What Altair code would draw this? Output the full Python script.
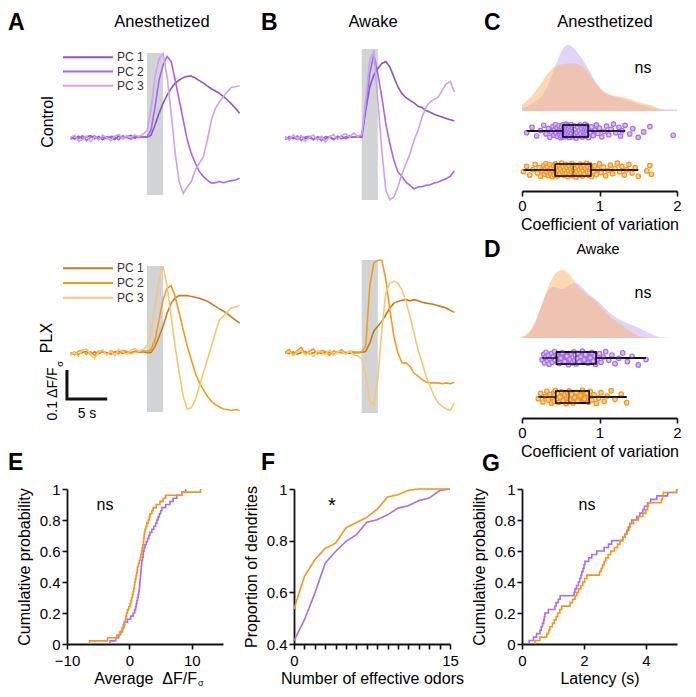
import altair as alt
import numpy as np
import pandas as pd

FONT = "Liberation Sans"

# ---------------- data ----------------
# time (s) relative to odor onset
T = [-9.5, -9.0, -8.5, -8.0, -7.5, -7.0, -6.5, -6.0, -5.5, -5.0, -4.5, -4.0, -3.5, -3.0, -2.5, -2.0, -1.5, -1.0, -0.5, 0.0,
     0.5, 1.0, 1.5, 2.0, 2.5, 3.0, 3.5, 4.0, 4.5, 5.0, 5.5, 6.0, 6.5, 7.0, 7.5, 8.0, 8.5, 9.0, 9.5, 10.0, 10.5, 11.0, 11.5]
STIM = [0.0, 2.0]
PCS = ["PC 1", "PC 2", "PC 3"]

A_CTRL = {
    "PC 1": [0.003, -0.004, 0.006, -0.002, 0.004, 0.008, -0.003, 0.005, -0.006, 0.004, 0.001, -0.005, 0.007, -0.002, 0.004, 0.009, -0.001, 0.006, 0.003, 0.002,
             0.01, 0.045, 0.085, 0.12, 0.148, 0.171, 0.189, 0.2, 0.208, 0.213, 0.214, 0.207, 0.198, 0.189, 0.179, 0.17, 0.162, 0.154, 0.143, 0.131, 0.117, 0.102, 0.085],
    "PC 2": [-0.005, 0.006, -0.002, 0.008, -0.009, 0.002, 0.007, -0.004, 0.003, -0.002, 0.006, 0.004, -0.006, 0.008, 0.002, -0.004, 0.007, 0.001, 0.005, 0.004,
             0.028, 0.108, 0.2, 0.252, 0.281, 0.264, 0.2, 0.131, 0.062, -0.007, -0.053, -0.087, -0.116, -0.133, -0.145, -0.156, -0.154, -0.15, -0.154, -0.15, -0.147, -0.145, -0.139],
    "PC 3": [0.002, 0.009, -0.011, -0.005, 0.006, -0.013, 0.004, -0.007, 0.01, 0.001, -0.009, 0.006, 0.012, -0.003, 0.008, 0.002, 0.011, 0.004, 0.013, 0.025,
             0.097, 0.212, 0.275, 0.292, 0.212, 0.085, -0.053, -0.151, -0.191, -0.168, -0.151, -0.11, -0.087, -0.064, -0.007, 0.062, 0.102, 0.125, 0.143, 0.16, 0.175, 0.177, 0.18],
}
A_PLX = {
    "PC 1": [-0.004, 0.003, -0.006, 0.002, 0.005, -0.003, 0.004, -0.002, 0.006, 0.001, -0.004, 0.003, 0.005, -0.001, 0.004, 0.002, 0.006, 0.003, 0.004, 0.001,
             0.002, 0.023, 0.057, 0.092, 0.138, 0.172, 0.19, 0.198, 0.198, 0.198, 0.195, 0.192, 0.189, 0.184, 0.178, 0.17, 0.161, 0.152, 0.144, 0.135, 0.124, 0.113, 0.103],
    "PC 2": [0.002, -0.007, 0.006, 0.01, -0.005, 0.004, -0.009, 0.007, 0.003, -0.004, 0.008, 0.002, -0.003, 0.009, 0.005, -0.002, 0.006, 0.004, 0.008, 0.005,
             0.011, 0.046, 0.115, 0.184, 0.224, 0.232, 0.195, 0.138, 0.08, 0.023, -0.023, -0.069, -0.103, -0.126, -0.149, -0.167, -0.178, -0.186, -0.193, -0.195, -0.198, -0.195, -0.198],
    "PC 3": [-0.008, 0.005, -0.012, 0.009, 0.014, -0.006, -0.02, 0.004, 0.011, -0.007, 0.006, -0.01, 0.013, 0.003, -0.005, 0.01, 0.015, 0.006, 0.012, 0.023,
             0.069, 0.161, 0.253, 0.299, 0.23, 0.126, 0.023, -0.069, -0.149, -0.193, -0.189, -0.161, -0.115, -0.069, -0.023, 0.023, 0.069, 0.115, 0.126, 0.144, 0.155, 0.159, 0.164],
}
B_CTRL = {
    "PC 1": [0.004, -0.003, 0.002, -0.005, 0.006, -0.002, 0.003, -0.006, 0.004, 0.001, -0.003, 0.005, -0.004, 0.002, 0.006, -0.002, 0.004, 0.003, 0.005, 0.002,
             0.095, 0.176, 0.216, 0.239, 0.257, 0.264, 0.245, 0.21, 0.176, 0.153, 0.139, 0.13, 0.121, 0.109, 0.105, 0.095, 0.089, 0.082, 0.077, 0.072, 0.067, 0.063, 0.059],
    "PC 2": [-0.006, 0.005, -0.003, 0.007, -0.008, 0.004, 0.006, -0.005, 0.002, -0.009, 0.005, 0.003, -0.006, 0.007, -0.003, 0.004, 0.008, 0.002, 0.006, 0.004,
             0.107, 0.222, 0.288, 0.222, 0.141, 0.049, -0.02, -0.077, -0.117, -0.134, -0.152, -0.163, -0.175, -0.169, -0.167, -0.163, -0.161, -0.155, -0.152, -0.146, -0.14, -0.132, -0.114],
    "PC 3": [0.005, -0.008, 0.011, -0.004, 0.009, -0.012, 0.003, 0.01, -0.007, 0.006, -0.014, 0.004, 0.012, -0.005, 0.008, 0.015, 0.003, 0.018, 0.006, 0.012,
             0.13, 0.268, 0.297, 0.13, -0.043, -0.18, -0.213, -0.203, -0.169, -0.123, -0.089, -0.054, -0.008, 0.026, 0.072, 0.107, 0.125, 0.133, 0.141, 0.164, 0.187, 0.195, 0.159],
}
B_PLX = {
    "PC 1": [0.003, -0.002, 0.004, -0.004, 0.002, 0.005, -0.003, 0.001, 0.004, -0.002, 0.003, 0.002, -0.004, 0.003, 0.001, 0.002, -0.001, 0.002, 0.001, 0.002,
             0.006, 0.034, 0.075, 0.092, 0.109, 0.132, 0.155, 0.172, 0.178, 0.182, 0.184, 0.18, 0.184, 0.18, 0.175, 0.172, 0.17, 0.167, 0.163, 0.159, 0.155, 0.147, 0.14],
    "PC 2": [0.004, 0.012, -0.006, 0.008, 0.02, -0.004, 0.006, 0.014, -0.003, 0.009, 0.005, -0.008, 0.007, 0.003, 0.011, -0.002, 0.006, 0.004, 0.003, 0.004,
             0.023, 0.23, 0.31, 0.32, 0.32, 0.253, 0.149, 0.057, 0.0, -0.034, -0.034, -0.046, -0.069, -0.08, -0.092, -0.1, -0.103, -0.103, -0.103, -0.106, -0.103, -0.106, -0.101],
    "PC 3": [-0.003, 0.006, -0.01, 0.004, 0.009, -0.007, 0.002, -0.012, 0.007, 0.003, -0.005, 0.01, -0.008, 0.004, 0.006, -0.004, 0.008, -0.006, -0.01, -0.02,
             -0.08, -0.167, -0.178, -0.092, 0.08, 0.207, 0.241, 0.247, 0.241, 0.218, 0.178, 0.126, 0.069, 0.011, -0.034, -0.08, -0.115, -0.149, -0.172, -0.184, -0.193, -0.198, -0.172],
}

# scale bar: 0.1 dF/F_sigma, 5 s
SB_T0, SB_DT, SB_V0, SB_DV = -9.94, 5.0, -0.159, 0.1

# coefficient of variation (C: anesthetized, D: awake)
C_CTRL = [0.06, 0.13, 0.19, 0.24, 0.28, 0.31, 0.34, 0.36, 0.38, 0.40, 0.41, 0.42, 0.43, 0.44, 0.45, 0.46, 0.47, 0.48, 0.49, 0.495, 0.50, 0.505, 0.51, 0.515, 0.52,
          0.53, 0.535, 0.54, 0.545, 0.55, 0.555, 0.56, 0.565, 0.57, 0.575, 0.58, 0.585, 0.59, 0.595, 0.60, 0.605, 0.61, 0.615, 0.62, 0.625, 0.63, 0.635, 0.64, 0.65, 0.655,
          0.665, 0.67, 0.68, 0.69, 0.70, 0.71, 0.72, 0.73, 0.74, 0.75, 0.76, 0.77, 0.78, 0.79, 0.80, 0.805, 0.81, 0.815, 0.82, 0.825, 0.83, 0.835, 0.84, 0.845, 0.85,
          0.86, 0.88, 0.90, 0.92, 0.94, 0.96, 0.98, 1.00, 1.03, 1.06, 1.09, 1.12, 1.15, 1.18, 1.21, 1.25, 1.27, 1.29, 1.33, 1.39, 1.43, 1.50, 1.57, 1.65, 1.95]
C_PLX = [0.02, 0.06, 0.10, 0.14, 0.17, 0.20, 0.22, 0.24, 0.26, 0.28, 0.29, 0.30, 0.31, 0.32, 0.33, 0.34, 0.35, 0.36, 0.37, 0.38, 0.39, 0.40, 0.41, 0.415, 0.42,
         0.43, 0.44, 0.45, 0.46, 0.47, 0.48, 0.49, 0.50, 0.51, 0.52, 0.53, 0.54, 0.55, 0.56, 0.57, 0.58, 0.59, 0.60, 0.61, 0.62, 0.63, 0.64, 0.645, 0.65, 0.655,
         0.665, 0.67, 0.68, 0.69, 0.70, 0.71, 0.72, 0.73, 0.74, 0.75, 0.76, 0.77, 0.78, 0.79, 0.80, 0.81, 0.82, 0.83, 0.84, 0.85, 0.86, 0.87, 0.875, 0.88, 0.885,
         0.90, 0.92, 0.94, 0.96, 0.98, 1.00, 1.02, 1.05, 1.08, 1.11, 1.14, 1.17, 1.20, 1.23, 1.26, 1.29, 1.32, 1.35, 1.38, 1.42, 1.46, 1.50, 1.61, 1.65, 1.67]
D_CTRL = [0.26, 0.28, 0.29, 0.30, 0.31, 0.33, 0.34, 0.35, 0.36, 0.38, 0.39, 0.40, 0.42, 0.43, 0.45, 0.48, 0.50, 0.52, 0.55, 0.58,
          0.60, 0.62, 0.64, 0.65, 0.66, 0.67, 0.68, 0.69, 0.70, 0.71, 0.72, 0.74, 0.76, 0.78, 0.80, 0.82, 0.85, 0.88, 0.90, 0.92,
          0.94, 0.95, 0.97, 1.00, 1.02, 1.05, 1.08, 1.12, 1.16, 1.20, 1.25, 1.30, 1.36, 1.42, 1.50, 1.60]
D_PLX = [0.21, 0.24, 0.27, 0.30, 0.32, 0.34, 0.36, 0.38, 0.40, 0.41, 0.415, 0.42, 0.43, 0.45, 0.46, 0.47, 0.49, 0.51, 0.53, 0.55,
         0.57, 0.58, 0.59, 0.60, 0.60, 0.61, 0.62, 0.64, 0.66, 0.68, 0.70, 0.72, 0.75, 0.78, 0.81, 0.84, 0.86, 0.87, 0.88, 0.90,
         0.93, 0.96, 0.99, 1.02, 1.06, 1.10, 1.15, 1.20, 1.28, 1.35]

# E: average dF/F_sigma (cumulative)
E_CTRL = [-3.1, -2.2, -1.7, -1.4, -1.15, -1.0, -0.85, -0.3, 0.2, 0.6, 0.85, 1.0, 1.1, 1.2, 1.3, 1.4, 1.5, 1.58, 1.63, 1.67,
          1.72, 1.77, 1.82, 1.86, 1.9, 1.95, 2.0, 2.1, 2.2, 2.25, 2.35, 2.5, 2.7, 2.9, 3.1, 3.3, 3.6, 3.9, 4.2, 4.4,
          4.6, 4.8, 5.0, 5.2, 5.8, 6.5, 7.0, 7.6, 8.4, 9.0]
E_PLX = [-6.4, -3.5, -2.0, -1.5, -1.1, -0.9, -0.75, -0.65, -0.55, -0.45, -0.3, -0.1, 0.1, 0.25, 0.35, 0.5, 0.6, 0.7, 0.8, 0.85,
         0.95, 1.05, 1.15, 1.25, 1.3, 1.45, 1.6, 1.75, 1.85, 1.95, 2.05, 2.15, 2.25, 2.3, 2.35, 2.4, 2.5, 2.65, 2.8, 3.0,
         3.2, 3.3, 3.6, 3.8, 4.3, 4.9, 5.4, 5.8, 8.4, 11.4]

# F: proportion of dendrites vs number of effective odors
F_ODORS = [0, 1, 2, 3, 4, 5, 6, 7, 8, 9, 10, 11, 12, 13, 14, 15]
F_CTRL = [0.413, 0.493, 0.596, 0.713, 0.758, 0.797, 0.823, 0.871, 0.881, 0.9, 0.926, 0.935, 0.955, 0.965, 0.994, 1.0]
F_PLX = [0.536, 0.661, 0.726, 0.77, 0.79, 0.85, 0.87, 0.89, 0.922, 0.969, 0.978, 0.995, 1.0, 1.0, 1.0, 1.0]

# G: latency (s)
G_CTRL = [0.23, 0.37, 0.47, 0.58, 0.62, 0.66, 0.70, 0.72, 0.74, 0.85, 1.06, 1.10, 1.17, 1.23, 1.68, 1.71, 1.76, 1.82, 1.86, 1.90,
          1.93, 1.97, 2.0, 2.03, 2.15, 2.25, 2.41, 2.65, 2.79, 2.89, 3.25, 3.32, 3.38, 3.43, 3.48, 3.54, 3.7, 3.8, 3.9, 3.95,
          4.05, 4.15, 4.35, 4.7, 4.99]
G_PLX = [0.42, 0.58, 0.80, 0.86, 0.90, 0.98, 1.04, 1.10, 1.15, 1.22, 1.28, 1.55, 1.63, 1.71, 1.77, 1.82, 1.90, 1.96, 2.02, 2.09,
         2.50, 2.55, 2.60, 2.65, 2.70, 2.78, 2.86, 2.98, 3.08, 3.16, 3.25, 3.32, 3.40, 3.45, 3.48, 3.6, 3.75, 3.9, 4.0, 4.05,
         4.08, 4.5, 4.53, 4.56, 4.99]

# ---------------- styling ----------------
PURPLE = "#a76ef0"
ORANGE = "#f7941d"
PURPLE_TINT = "#d9c2fa"
ORANGE_TINT = "#fcd39a"
PURPLES = ["#8b56c8", "#a468ee", "#c8a3f6"]
ORANGES = ["#c97b1c", "#f49b1e", "#f9c673"]
GRAY = "#d2d3d5"
GRP = ["ctrl", "plx"]

W, H = 668, 668
M = 8  # page margin


def gx(x):
    return x - M


def gy(y):
    return y - M


def lin(domain, rng):
    return alt.Scale(domain=domain, range=rng, nice=False, zero=False)


def txt(s, x, y, size=15, weight="normal", align="center", baseline="middle", angle=0):
    return alt.Chart(pd.DataFrame({"s": [s]})).mark_text(
        font=FONT, fontSize=size, fontWeight=weight, align=align, baseline=baseline,
        angle=angle, color="black"
    ).encode(text="s:N", x=alt.value(gx(x)), y=alt.value(gy(y)))


layers = []

# ---------------- trace panels (A, B) ----------------
PX_PER_UNIT = 290.0
T_DOM = [-9.5, 11.5]


def trace_panel(traces, colors, x_px, top, bottom, base, legend_rows=None, scalebar=False):
    ydom = [-(bottom - base) / PX_PER_UNIT, (base - top) / PX_PER_UNIT]
    xsc = lin(T_DOM, [gx(x_px[0]), gx(x_px[1])])
    ysc = lin(ydom, [gy(bottom), gy(top)])
    rows = []
    for name in PCS:
        for t, v in zip(T, traces[name]):
            rows.append({"t": t, "v": v, "pc": name})
    df = pd.DataFrame(rows)
    stim = pd.DataFrame({"on": [STIM[0]], "off": [STIM[1]], "lo": [ydom[0]], "hi": [ydom[1]]})
    out = [
        alt.Chart(stim).mark_rect(color=GRAY).encode(
            x=alt.X("on:Q", scale=xsc, axis=None), x2="off:Q",
            y=alt.Y("lo:Q", scale=ysc, axis=None), y2="hi:Q"),
        alt.Chart(df).mark_line(strokeWidth=1.6).encode(
            x=alt.X("t:Q", scale=xsc, axis=None),
            y=alt.Y("v:Q", scale=ysc, axis=None),
            color=alt.Color("pc:N", scale=alt.Scale(domain=PCS[::-1], range=colors[::-1]), legend=None)),
    ]
    if legend_rows is not None:
        ldf = pd.DataFrame({"pc": PCS})
        yl = alt.Y("pc:N", scale=alt.Scale(type="point", domain=PCS, range=[gy(legend_rows[0]), gy(legend_rows[1])], padding=0), axis=None)
        out.append(alt.Chart(ldf).mark_rule(strokeWidth=2).encode(
            y=yl, x=alt.value(gx(63)), x2=alt.value(gx(113)),
            color=alt.Color("pc:N", scale=alt.Scale(domain=PCS, range=colors), legend=None)))
        out.append(alt.Chart(ldf).mark_text(font=FONT, fontSize=12, align="left", color="#333").encode(
            y=yl, x=alt.value(gx(117)), text="pc:N"))
    if scalebar:
        sb = pd.DataFrame({"t": [SB_T0, SB_T0, SB_T0 + SB_DT],
                           "v": [SB_V0 + SB_DV, SB_V0, SB_V0], "k": [0, 1, 2]})
        out.append(alt.Chart(sb).mark_line(color="#111", strokeWidth=3, strokeJoin="miter", strokeCap="butt").encode(
            x=alt.X("t:Q", scale=xsc, axis=None), y=alt.Y("v:Q", scale=ysc, axis=None), order="k:Q"))
    return out


layers += trace_panel(A_CTRL, PURPLES, (70.5, 239.6), 53, 195, 138, legend_rows=(57.3, 85.7))
layers += trace_panel(A_PLX, ORANGES, (70.5, 239.6), 266, 412, 353, legend_rows=(268.3, 297.7), scalebar=True)
layers += trace_panel(B_CTRL, PURPLES, (285.2, 454.3), 49, 200, 138)
layers += trace_panel(B_PLX, ORANGES, (285.2, 454.3), 260, 413, 353)

# ---------------- CV panels (C, D) ----------------
BW = 0.11


def kde_peak(vals, bw):
    g = np.linspace(0, 2, 201)
    v = np.asarray(vals)
    d = np.exp(-0.5 * ((g[:, None] - v[None, :]) / bw) ** 2).sum(1) / (len(v) * bw * np.sqrt(2 * np.pi))
    return d.max()


def cv_panel(ctrl, plx, axis_y, base, peak_y, rows_y):
    df = pd.DataFrame({"cv": ctrl + plx, "grp": ["ctrl"] * len(ctrl) + ["plx"] * len(plx)})
    xsc = lin([0, 2], [gx(522), gx(677)])
    peak = max(kde_peak(ctrl, BW), kde_peak(plx, BW))
    ysc_d = lin([0, peak], [gy(base), gy(peak_y)])
    ysc_row = alt.Scale(type="point", domain=GRP, range=[gy(rows_y[0]), gy(rows_y[1])], padding=0)
    ysc_pts = lin([0, 1], [gy(rows_y[0]), gy(rows_y[1])])
    out = []
    for g, col, op in [("ctrl", "#c6a8f6", 0.5), ("plx", "#fbb467", 0.5)]:
        out.append(alt.Chart(df).transform_filter(f"datum.grp == '{g}'").transform_density(
            "cv", as_=["cv", "density"], extent=[0, 2], bandwidth=BW, steps=120
        ).mark_area(color=col, opacity=op).encode(
            x=alt.X("cv:Q", scale=xsc, axis=None),
            y=alt.Y("density:Q", scale=ysc_d, axis=None, stack=None)))
    for g, col, tint, r in [("ctrl", PURPLE, PURPLE_TINT, 0), ("plx", ORANGE, ORANGE_TINT, 1)]:
        base_chart = alt.Chart(df).transform_filter(f"datum.grp == '{g}'")
        out.append(base_chart.mark_boxplot(
            extent=1.5, size=12, ticks=False, outliers=False,
            box={"fill": col, "stroke": "black", "strokeWidth": 1.5},
            median={"color": "black", "strokeWidth": 2},
            rule={"color": "black", "strokeWidth": 1.3},
        ).encode(x=alt.X("cv:Q", scale=xsc, axis=None), y=alt.Y("grp:N", scale=ysc_row, axis=None)))
        out.append(base_chart.transform_window(idx="row_number()").transform_calculate(
            yj=f"{r} + ((datum.idx * 0.618034) % 1 - 0.5) * 0.36"
        ).mark_point(shape="circle", filled=True, fill=tint, stroke=col, strokeWidth=1.2, size=20, opacity=1).encode(
            x=alt.X("cv:Q", scale=xsc, axis=None), y=alt.Y("yj:Q", scale=ysc_pts, axis=None)))
        out.append(base_chart.mark_boxplot(
            extent=1.5, size=12, ticks=False, outliers=False,
            box={"fillOpacity": 0, "stroke": "black", "strokeWidth": 1.5},
            median={"color": "black", "strokeWidth": 2},
            rule={"color": "black", "strokeWidth": 1.3},
        ).encode(x=alt.X("cv:Q", scale=xsc, axis=None), y=alt.Y("grp:N", scale=ysc_row, axis=None)))
    # axis carrier
    out.append(alt.Chart(df).mark_point(opacity=0, size=0).encode(
        x=alt.X("cv:Q", scale=xsc, axis=alt.Axis(orient="bottom", offset=gy(axis_y) - H, values=[0, 1, 2],
                                                 title="Coefficient of variation", titlePadding=3,
                                                 labelExpr="format(datum.value, '~g')")),
        y=alt.Y("grp:N", scale=ysc_row, axis=None)))
    return out


layers += cv_panel(C_CTRL, C_PLX, 191, 111, 45, (131, 170))
layers += cv_panel(D_CTRL, D_PLX, 418, 338, 270, (358, 397))

# ---------------- E, F, G ----------------
Y_BOT, Y_TOP = 644, 489
CUM_VALS = [0, 0.2, 0.4, 0.6, 0.8, 1]
FMT = "format(datum.value, '~g')"
gcolor = alt.Color("grp:N", scale=alt.Scale(domain=GRP, range=[PURPLE, ORANGE]), legend=None)


def ecdf(ctrl, plx, xsc, ysc, xaxis, yaxis):
    df = pd.DataFrame({"v": ctrl + plx, "grp": ["ctrl"] * len(ctrl) + ["plx"] * len(plx)})
    return alt.Chart(df).transform_window(
        rank="row_number()", sort=[{"field": "v"}], groupby=["grp"]
    ).transform_joinaggregate(n="count()", groupby=["grp"]).transform_calculate(
        p_lo="(datum.rank - 1) / datum.n", p_hi="datum.rank / datum.n"
    ).transform_fold(["p_lo", "p_hi"], as_=["which", "p"]).transform_calculate(
        k="2 * datum.rank + (datum.which == 'p_hi' ? 1 : 0)"
    ).mark_line(strokeWidth=1.6).encode(
        x=alt.X("v:Q", scale=xsc, axis=xaxis), y=alt.Y("p:Q", scale=ysc, axis=yaxis),
        color=gcolor, order="k:Q")


def yax(x_axis_px, title, values):
    return alt.Axis(orient="left", offset=-gx(x_axis_px), values=values, title=title,
                    titlePadding=7, labelExpr=FMT)


def xax(values, title, expr=FMT):
    return alt.Axis(orient="bottom", offset=gy(Y_BOT) - H, values=values, title=title,
                    titlePadding=2, labelPadding=4, labelExpr=expr)


ysc_cum = lin([0, 1], [gy(Y_BOT), gy(Y_TOP)])
layers.append(ecdf(E_CTRL, E_PLX, lin([-10, 15], [gx(67), gx(223)]), ysc_cum,
                   xax([-10, 0, 10], ""), yax(67, "Cumulative probability", CUM_VALS)))
layers.append(ecdf(G_CTRL, G_PLX, lin([0, 5], [gx(522), gx(677)]), ysc_cum,
                   xax([0, 2, 4], "Latency (s)"), yax(522, "Cumulative probability", CUM_VALS)))

fdf = pd.DataFrame({"n": F_ODORS + F_ODORS, "p": F_CTRL + F_PLX,
                    "grp": ["ctrl"] * len(F_ODORS) + ["plx"] * len(F_ODORS)})
layers.append(alt.Chart(fdf).mark_line(strokeWidth=1.6).encode(
    x=alt.X("n:Q", scale=lin([0, 15], [gx(294), gx(450)]),
            axis=xax(F_ODORS, "Number of effective odors",
                     "datum.value == 0 || datum.value == 15 ? format(datum.value, '~g') : ''")),
    y=alt.Y("p:Q", scale=lin([0.4, 1], [gy(Y_BOT), gy(Y_TOP)]),
            axis=yax(294, "Proportion of dendrites", [0.4, 0.6, 0.8, 1])),
    color=gcolor))

# ---------------- text ----------------
for letter, x, y in [("A", 8, 30), ("B", 261, 30), ("C", 484, 30), ("D", 484, 257),
                     ("E", 8, 470), ("F", 261, 470), ("G", 482, 471)]:
    layers.append(txt(letter, x, y, size=23, weight="bold", align="left", baseline="alphabetic"))

layers += [
    txt("Anesthetized", 162, 22, size=16.5),
    txt("Awake", 373, 22, size=16.5),
    txt("Anesthetized", 605, 22, size=16.5),
    txt("Awake", 598, 250, size=14.5),
    txt("Control", 48, 122, size=16, angle=270),
    txt("PLX", 47, 338, size=16, angle=270),
    txt("0.1 \u0394F/F", 53, 394, size=14, angle=270),
    txt("\u03c3", 60, 364, size=9, angle=270),
    txt("5 s", 87, 414, size=14),
    txt("ns", 643, 68, size=16),
    txt("ns", 643, 293, size=16),
    txt("ns", 105, 505, size=16),
    txt("*", 332, 506, size=20),
    txt("ns", 587, 505, size=16),
    txt("Average\u00a0 \u0394F/F", 197, 684, size=16, align="right", baseline="alphabetic"),
    txt("\u03c3", 198, 686, size=9, align="left", baseline="alphabetic"),
]

chart = alt.layer(*layers).resolve_scale(
    x="independent", y="independent", color="independent"
).properties(
    width=W, height=H, padding={"left": 0, "top": 0, "right": 0, "bottom": 0}
).configure_view(stroke="transparent").configure_axis(
    labelFont=FONT, labelFontSize=15, labelColor="black",
    titleFont=FONT, titleFontSize=16, titleFontWeight="normal", titleColor="black",
    domainColor="#111", tickColor="#111", domainWidth=1.8, tickWidth=1.6, tickSize=5,
    grid=False, labelFlush=False, labelOverlap=False, labelPadding=2,
)

chart.save("out.html", embed_options={"renderer": "svg", "actions": False})
